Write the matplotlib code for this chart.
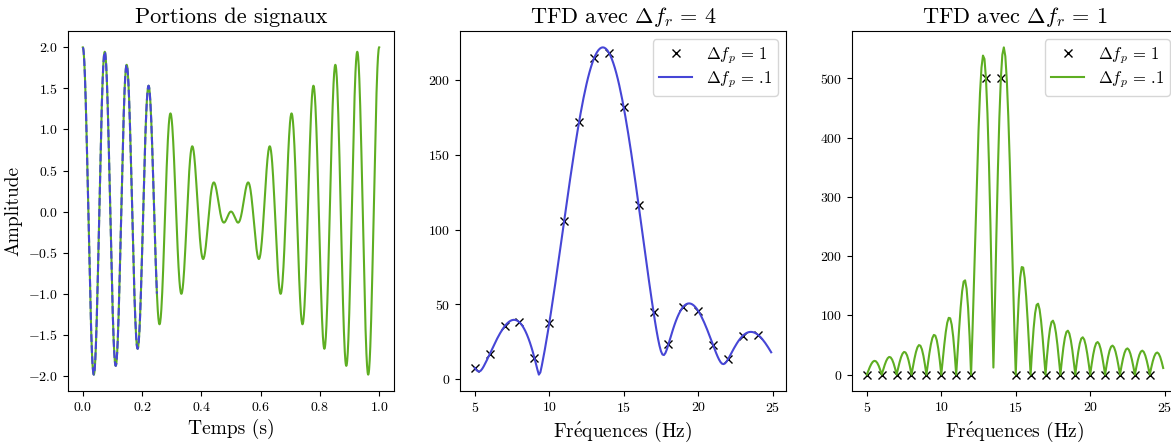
"""Portions de signaux et TFD avec differentes resolutions (fenetre 0.25 s et 1 s)."""

import numpy as np
import matplotlib
matplotlib.use("Agg")
import matplotlib.pyplot as plt

# signal: somme de deux cosinus
fs = 1000                     # Hz
sig_freqs = [13, 14]          # Hz
sig_amps = [1.0, 1.0]
durations = [0.25, 1.0]       # s  -> Delta f_r = 4 et 1
df_markers = 1.0              # Delta f_p = 1
df_curve = 0.1                # Delta f_p = .1
f_min, f_max = 5, 25

titles = ["Portions de signaux",
          r"TFD avec $\Delta f_r \,=\, 4$",
          r"TFD avec $\Delta f_r \,=\, 1$"]
leg_labels = [r"$\Delta f_p \,=\, 1$", r"$\Delta f_p \,=\,$.1"]

GREEN = "#5eae22"
BLUE = "#4646d6"

plt.rcParams.update({
    "font.family": ["cmr10", "DejaVu Serif"],
    "mathtext.fontset": "cm",
    "axes.formatter.use_mathtext": True,
    "axes.unicode_minus": True,
    "xtick.labelsize": 10,
    "ytick.labelsize": 10,
})


def make_signal(duration):
    t = np.arange(int(round(duration * fs)) + 1) / fs
    x = np.zeros_like(t)
    for a, f in zip(sig_amps, sig_freqs):
        x += a * np.cos(2 * np.pi * f * t)
    return t, x


def tfd(x, df):
    nfft = int(round(fs / df))
    X = np.abs(np.fft.fft(x, n=nfft))
    f = np.arange(nfft) * df
    keep = (f >= f_min - 1e-9) & (f < f_max - 1e-9)
    return f[keep], X[keep]


fig = plt.figure(figsize=(11.71, 4.43), dpi=100)
W, H = 1171, 443
boxes = [(68, 394), (460, 786), (852, 1178)]
axes = [fig.add_axes([l / W, (H - 391) / H, (r - l) / W, (391 - 31) / H]) for l, r in boxes]

t_full, x_full = make_signal(durations[1])
t_part, x_part = make_signal(durations[0])

ax = axes[0]
ax.plot(t_full, x_full, color=GREEN, lw=1.5)
ax.plot(t_part, x_part, color=BLUE, lw=1.5, ls="--")
ax.set_title(titles[0], fontsize=16)
ax.set_xlabel("Temps (s)", fontsize=14)
ax.set_ylabel("Amplitude", fontsize=14)

for ax, (dur, col, title) in zip(axes[1:], [(durations[0], BLUE, titles[1]),
                                           (durations[1], GREEN, titles[2])]):
    _, x = make_signal(dur)
    x = x[:int(round(dur * fs))]
    fm, Xm = tfd(x, df_markers)
    fc, Xc = tfd(x, df_curve)
    ax.plot(fm, Xm, "x", color="black", ms=6, mew=1.0, label=leg_labels[0])
    ax.plot(fc, Xc, color=col, lw=1.5, label=leg_labels[1])
    ax.set_title(title, fontsize=16)
    ax.set_xlabel(r"Fr$\mathrm{\acute{e}}$quences (Hz)", fontsize=14)
    ax.set_xticks([5, 10, 15, 20, 25])
    ax.legend(loc="upper right", fontsize=12, labelspacing=0.2, borderpad=0.35)

fig.savefig("out.png", dpi=100)
